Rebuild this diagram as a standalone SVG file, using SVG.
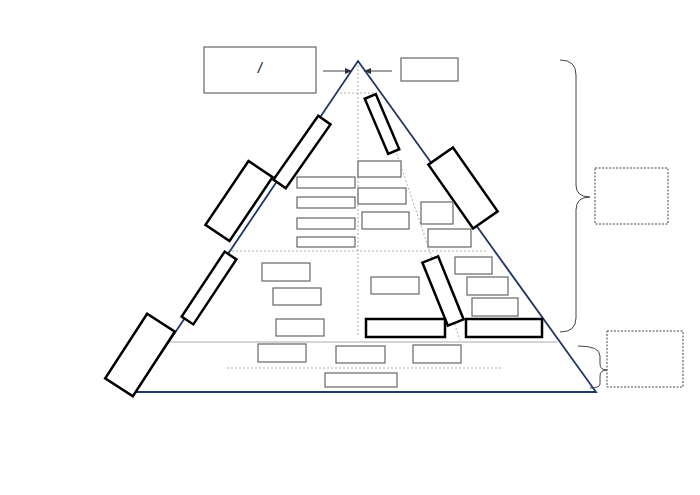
<svg xmlns="http://www.w3.org/2000/svg" width="700" height="495" viewBox="0 0 700 495">
<style>
.b{fill:#fff;stroke:#666;stroke-width:1.2}
.k{fill:#fff;stroke:#000;stroke-width:2.5}
.d{fill:none;stroke:#999;stroke-width:0.8;stroke-dasharray:2 2}
.g{fill:none;stroke:#444;stroke-width:1}
</style>
<defs><marker id="a" markerWidth="8" markerHeight="8" refX="7" refY="4" orient="auto"><path d="M0,1 L7,4 L0,7 Z" fill="#333"/></marker></defs>
<rect width="700" height="495" fill="#fff"/>
<g id="connectors">
<path d="M358,61 L358,335 M340,93 L377,93 M228,251 L486,251 M376,93 L460,340 M227,368 L502,368" class="d"/>
<path d="M170,342 L557,342" stroke="#aaa" stroke-width="1" fill="none"/>
<path d="M323,71 L352,71" class="g" marker-end="url(#a)"/>
<path d="M392,71 L364,71" class="g" marker-end="url(#a)"/>
<path d="M560,60 Q576,60 576,75 L576,185 Q576,197 590,197 Q576,197 576,210 L576,318 Q576,332 560,332" class="g"/>
<path d="M578,346 Q600,346 600,356 L600,364 Q600,370 607,370 Q600,370 600,376 L600,384 Q600,388 590,388" class="g"/>
</g>
<g id="triangle"><path d="M358,61 L596,392 L135,392 Z" fill="none" stroke="#1f3864" stroke-width="1.8"/></g>
<g id="top-left"><rect x="204" y="47" width="112" height="46" class="b" stroke="#333"/><text x="260" y="73" font-family="Liberation Sans, sans-serif" font-size="14" font-style="italic" text-anchor="middle">/</text></g>
<g id="top-right"><rect x="401" y="58" width="57" height="23" class="b"/></g>
<g id="right-dotted1"><rect x="595" y="168" width="73" height="56" fill="#fff" stroke="#444" stroke-dasharray="2 1.5"/></g>
<g id="right-dotted2"><rect x="607" y="331" width="76" height="56" fill="#fff" stroke="#444" stroke-dasharray="2 1.5"/></g>
<g id="rot1"><rect x="-39" y="-7.5" width="78" height="15" class="k" transform="translate(302,152) rotate(-55)"/></g>
<g id="rot2"><rect x="-38.5" y="-14.5" width="77" height="29" class="k" transform="translate(239,201) rotate(-56)"/></g>
<g id="rot3"><rect x="-39" y="-7" width="78" height="14" class="k" transform="translate(209,288) rotate(-56.5)"/></g>
<g id="rot4"><rect x="-38.5" y="-16.5" width="77" height="33" class="k" transform="translate(140,355) rotate(-57)"/></g>
<g id="rot5"><rect x="-39" y="-15" width="78" height="30" class="k" transform="translate(463,188) rotate(55)"/></g>
<g id="rot6"><rect x="-30" y="-6" width="60" height="12" class="k" transform="translate(382,124) rotate(67)"/></g>
<g id="rot7"><rect x="-34" y="-8.5" width="68" height="17" class="k" transform="translate(443,291) rotate(68)"/></g>
<g id="boxes">
<rect x="297" y="177" width="58" height="11" class="b"/>
<rect x="297" y="197" width="58" height="11" class="b"/>
<rect x="297" y="218" width="58" height="11" class="b"/>
<rect x="297" y="237" width="58" height="10" class="b"/>
<rect x="358" y="161" width="43" height="16" class="b"/>
<rect x="358" y="188" width="48" height="16" class="b"/>
<rect x="362" y="212" width="47" height="17" class="b"/>
<rect x="421" y="202" width="32" height="22" class="b"/>
<rect x="428" y="229" width="43" height="18" class="b"/>
<rect x="262" y="263" width="48" height="18" class="b"/>
<rect x="273" y="288" width="48" height="17" class="b"/>
<rect x="276" y="319" width="48" height="17" class="b"/>
<rect x="371" y="277" width="48" height="17" class="b"/>
<rect x="455" y="257" width="37" height="17" class="b"/>
<rect x="467" y="277" width="41" height="18" class="b"/>
<rect x="472" y="298" width="46" height="18" class="b"/>
<rect x="258" y="344" width="48" height="18" class="b"/>
<rect x="336" y="346" width="49" height="17" class="b"/>
<rect x="413" y="345" width="48" height="18" class="b"/>
<rect x="325" y="373" width="72" height="14" class="b"/>
</g>
<g id="thick-boxes">
<rect x="366" y="319" width="79" height="18" class="k"/>
<rect x="466" y="319" width="76" height="18" class="k"/>
</g>
</svg>
